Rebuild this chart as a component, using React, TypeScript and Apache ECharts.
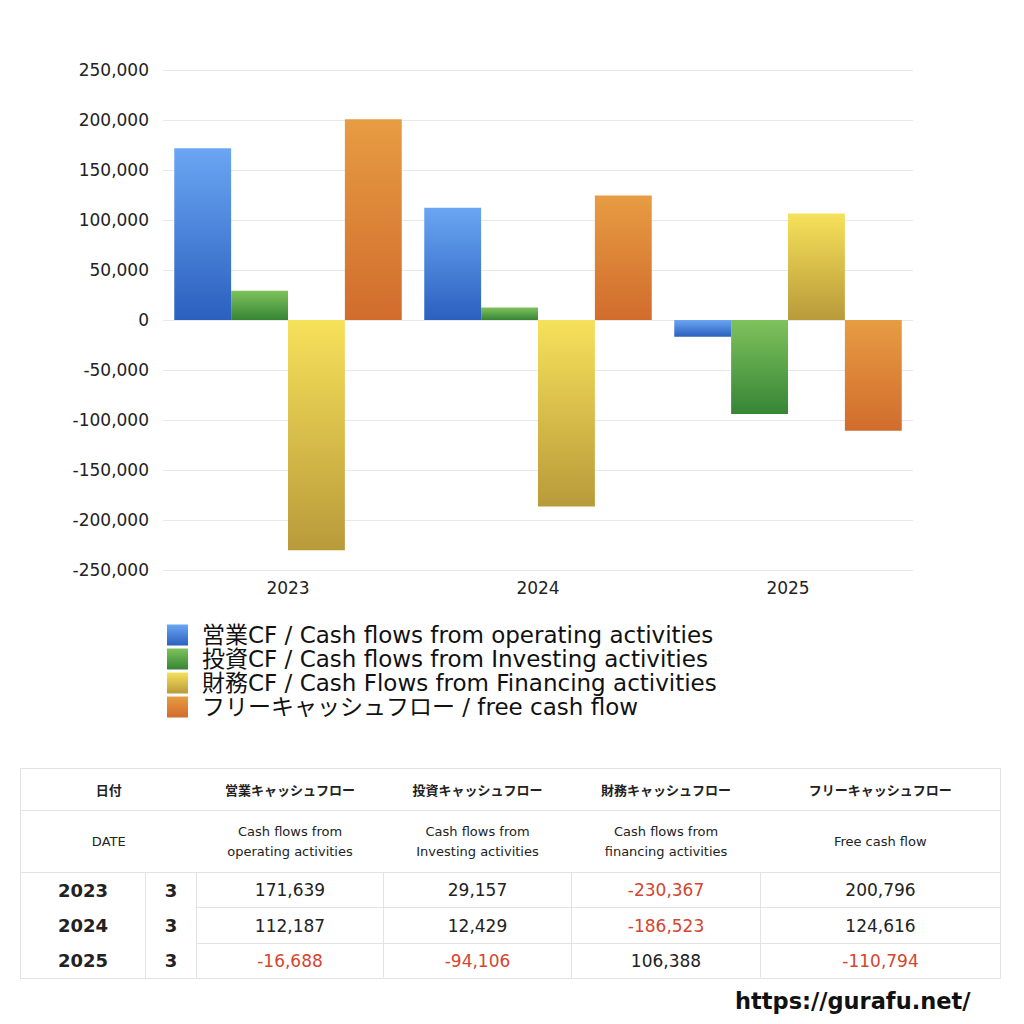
import { useEffect, useRef } from "react";
import * as echarts from "echarts";

const years = ["2023", "2024", "2025"];
const months = ["3", "3", "3"];
const operatingCF = [171639, 112187, -16688];
const investingCF = [29157, 12429, -94106];
const financingCF = [-230367, -186523, 106388];
const freeCF = [200796, 124616, -110794];

const seriesNames = [
  "営業CF / Cash flows from operating activities",
  "投資CF / Cash flows from Investing activities",
  "財務CF / Cash Flows from Financing activities",
  "フリーキャッシュフロー / free cash flow",
];

const headerJa = ["営業キャッシュフロー", "投資キャッシュフロー", "財務キャッシュフロー", "フリーキャッシュフロー"];
const headerEn = [
  ["Cash flows from", "operating activities"],
  ["Cash flows from", "Investing activities"],
  ["Cash flows from", "financing activities"],
  ["Free cash flow"],
];

const FONT = "'DejaVu Sans', 'Noto Sans CJK JP', sans-serif";

const gradients = [
  ["#6aa6f3", "#2b60bf"],
  ["#7ec25c", "#368535"],
  ["#f6e15a", "#b99a3a"],
  ["#e79c42", "#d16c2d"],
];

function fmt(v: number): string {
  return v.toLocaleString("en-US");
}

function gradient(top: string, bottom: string) {
  return new echarts.graphic.LinearGradient(0, 0, 0, 1, [
    { offset: 0, color: top },
    { offset: 1, color: bottom },
  ]);
}

function CashFlowChart() {
  const containerRef = useRef<HTMLDivElement | null>(null);

  useEffect(() => {
    if (!containerRef.current) {
      return;
    }
    const chart = echarts.init(containerRef.current, null, { renderer: "svg" });
    const allSeries = [operatingCF, investingCF, financingCF, freeCF];

    chart.setOption({
      animation: false,
      backgroundColor: "#ffffff",
      textStyle: { fontFamily: FONT },
      grid: { left: 163, right: 111, top: 70, bottom: 170 },
      legend: {
        orient: "vertical",
        left: 162,
        top: 618,
        icon: "rect",
        itemWidth: 21,
        itemHeight: 21,
        itemGap: 0,
        textStyle: {
          fontSize: 23,
          lineHeight: 24,
          color: "#111111",
          fontFamily: FONT,
          padding: [0, 0, 0, 9],
        },
        data: seriesNames,
      },
      xAxis: {
        type: "category",
        data: years,
        axisLine: { show: false },
        axisTick: { show: false },
        axisLabel: { fontSize: 17, color: "#222222", margin: 9, fontFamily: FONT },
      },
      yAxis: {
        type: "value",
        min: -250000,
        max: 250000,
        interval: 50000,
        axisLine: { show: false },
        axisTick: { show: false },
        axisLabel: {
          fontSize: 17,
          color: "#222222",
          margin: 14,
          fontFamily: FONT,
          formatter: (v: number) => fmt(v),
        },
        splitLine: { lineStyle: { color: "#e8e8e8", width: 1 } },
      },
      series: allSeries.map((values, i) => ({
        name: seriesNames[i],
        type: "bar",
        data: values,
        barGap: "0%",
        barCategoryGap: "9%",
        itemStyle: { color: gradient(gradients[i][0], gradients[i][1]) },
      })),
    });

    return () => {
      chart.dispose();
    };
  }, []);

  return <div ref={containerRef} style={{ position: "absolute", left: 0, top: 0, width: 1024, height: 740 }} />;
}

const cellBorder = "1px solid #e3e3e3";

function CashFlowTable() {
  const rows = years.map((_, i) => [operatingCF[i], investingCF[i], financingCF[i], freeCF[i]]);
  const colWidths = [125, 51, 187, 188, 189, 240];

  return (
    <table
      style={{
        position: "absolute",
        left: 20,
        top: 768,
        width: 980,
        borderCollapse: "collapse",
        tableLayout: "fixed",
        fontFamily: FONT,
        color: "#222222",
        border: cellBorder,
      }}
    >
      <colgroup>
        {colWidths.map((w, i) => (
          <col key={i} style={{ width: w }} />
        ))}
      </colgroup>
      <tbody>
        <tr style={{ height: 42 }}>
          <td colSpan={2} style={{ textAlign: "center", fontSize: 13, fontWeight: 700, borderBottom: cellBorder }}>
            日付
          </td>
          {headerJa.map((h) => (
            <td key={h} style={{ textAlign: "center", fontSize: 13, fontWeight: 700, borderBottom: cellBorder }}>
              {h}
            </td>
          ))}
        </tr>
        <tr style={{ height: 62 }}>
          <td colSpan={2} style={{ textAlign: "center", fontSize: 13, borderBottom: cellBorder }}>
            DATE
          </td>
          {headerEn.map((lines, i) => (
            <td key={i} style={{ textAlign: "center", fontSize: 13, lineHeight: "20px", borderBottom: cellBorder }}>
              {lines.map((l) => (
                <div key={l}>{l}</div>
              ))}
            </td>
          ))}
        </tr>
        {rows.map((vals, r) => (
          <tr key={years[r]} style={{ height: r === 1 ? 36 : 35 }}>
            <td style={{ textAlign: "center", fontSize: 18, fontWeight: 700, padding: 0 }}>{years[r]}</td>
            <td style={{ textAlign: "center", fontSize: 18, fontWeight: 700, padding: 0, borderLeft: cellBorder }}>
              {months[r]}
            </td>
            {vals.map((v, c) => (
              <td
                key={c}
                style={{
                  textAlign: "center",
                  fontSize: 17,
                  padding: 0,
                  color: v < 0 ? "#d4452f" : "#222222",
                  borderLeft: cellBorder,
                  borderBottom: r < rows.length - 1 ? cellBorder : "none",
                }}
              >
                {fmt(v)}
              </td>
            ))}
          </tr>
        ))}
      </tbody>
    </table>
  );
}

export default function App() {
  return (
    <div style={{ position: "absolute", left: 0, top: 0, width: 1024, height: 1024, background: "#ffffff" }}>
      <CashFlowChart />
      <CashFlowTable />
      <div
        style={{
          position: "absolute",
          left: 735,
          top: 988,
          fontFamily: FONT,
          fontSize: 22.5,
          fontWeight: 700,
          color: "#111111",
        }}
      >
        https://gurafu.net/
      </div>
    </div>
  );
}
